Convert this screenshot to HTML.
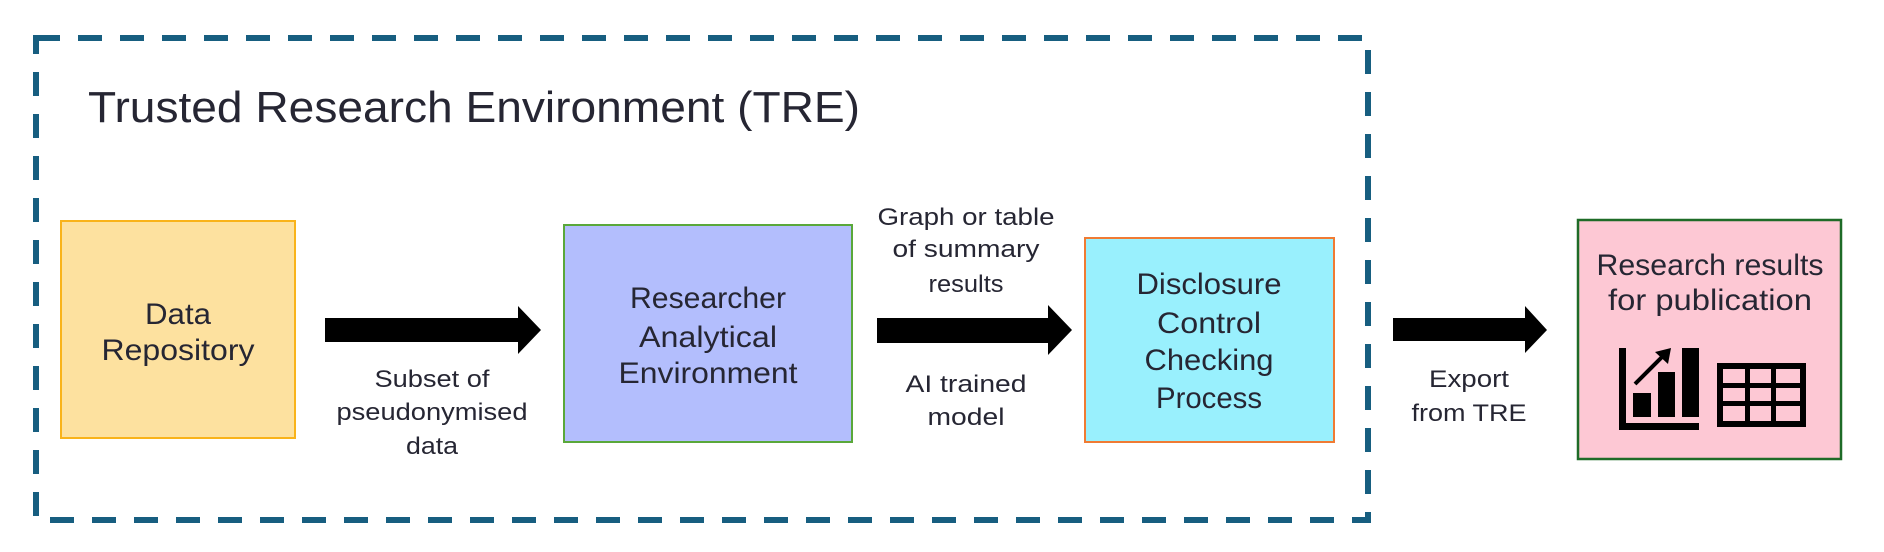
<!DOCTYPE html>
<html><head><meta charset="utf-8"><style>
html,body{margin:0;padding:0;background:#fff;}
svg{display:block;}
text{font-family:"Liberation Sans",sans-serif;fill:#262633;text-anchor:middle;}
</style></head><body>
<svg width="1884" height="552" viewBox="0 0 1884 552" xmlns="http://www.w3.org/2000/svg">
<rect x="36" y="38" width="1332" height="482" fill="none" stroke="#175e80" stroke-width="6" stroke-dasharray="24 18"/>
<text x="88" y="122" font-size="44" style="text-anchor:start" textLength="772" lengthAdjust="spacingAndGlyphs">Trusted Research Environment (TRE)</text>

<rect x="61" y="221" width="234" height="217" fill="#fde19f" stroke="#f9b31a" stroke-width="2"/>
<text x="178" y="324" font-size="30" textLength="66" lengthAdjust="spacingAndGlyphs">Data</text>
<text x="178" y="360" font-size="30" textLength="153" lengthAdjust="spacingAndGlyphs">Repository</text>

<polygon points="325,318 518,318 518,306 541,330 518,354 518,342 325,342" fill="#000"/>
<text x="432" y="387" font-size="24" textLength="115" lengthAdjust="spacingAndGlyphs">Subset of</text>
<text x="432" y="420" font-size="24" textLength="191" lengthAdjust="spacingAndGlyphs">pseudonymised</text>
<text x="432" y="454" font-size="24" textLength="52" lengthAdjust="spacingAndGlyphs">data</text>

<rect x="564" y="225" width="288" height="217" fill="#b3befd" stroke="#5aa83a" stroke-width="2"/>
<text x="708" y="308" font-size="30" textLength="156" lengthAdjust="spacingAndGlyphs">Researcher</text>
<text x="708" y="347" font-size="30" textLength="138" lengthAdjust="spacingAndGlyphs">Analytical</text>
<text x="708" y="383" font-size="30" textLength="179" lengthAdjust="spacingAndGlyphs">Environment</text>

<polygon points="877,318 1048,318 1048,305 1072,330 1048,355 1048,343 877,343" fill="#000"/>
<text x="966" y="225" font-size="24" textLength="177" lengthAdjust="spacingAndGlyphs">Graph or table</text>
<text x="966" y="257" font-size="24" textLength="147" lengthAdjust="spacingAndGlyphs">of summary</text>
<text x="966" y="292" font-size="24" textLength="75" lengthAdjust="spacingAndGlyphs">results</text>
<text x="966" y="392" font-size="24" textLength="121" lengthAdjust="spacingAndGlyphs">AI trained</text>
<text x="966" y="425" font-size="24" textLength="77" lengthAdjust="spacingAndGlyphs">model</text>

<rect x="1085" y="238" width="249" height="204" fill="#99f0fd" stroke="#f07b33" stroke-width="2"/>
<text x="1209" y="294" font-size="30" textLength="145" lengthAdjust="spacingAndGlyphs">Disclosure</text>
<text x="1209" y="333" font-size="30" textLength="104" lengthAdjust="spacingAndGlyphs">Control</text>
<text x="1209" y="370" font-size="30" textLength="129" lengthAdjust="spacingAndGlyphs">Checking</text>
<text x="1209" y="408" font-size="30" textLength="106" lengthAdjust="spacingAndGlyphs">Process</text>

<polygon points="1393,318 1525,318 1525,306 1547,330 1525,353 1525,341 1393,341" fill="#000"/>
<text x="1469" y="387" font-size="24" textLength="80" lengthAdjust="spacingAndGlyphs">Export</text>
<text x="1469" y="421" font-size="24" textLength="115" lengthAdjust="spacingAndGlyphs">from TRE</text>

<rect x="1578" y="220" width="263" height="239" fill="#fdc8d4" stroke="#1e6b27" stroke-width="2.5"/>
<text x="1710" y="275" font-size="30" textLength="227" lengthAdjust="spacingAndGlyphs">Research results</text>
<text x="1710" y="310" font-size="30" textLength="204" lengthAdjust="spacingAndGlyphs">for publication</text>

<!-- chart icon -->
<rect x="1619" y="348" width="7" height="82" fill="#000"/>
<rect x="1619" y="423" width="80" height="7" fill="#000"/>
<rect x="1633" y="393" width="18" height="24" fill="#000"/>
<rect x="1658" y="372" width="17" height="45" fill="#000"/>
<rect x="1682" y="348" width="17" height="69" fill="#000"/>
<line x1="1635" y1="384" x2="1664" y2="355" stroke="#000" stroke-width="4"/>
<polygon points="1671,348 1668,364 1655,352" fill="#000"/>
<!-- table icon -->
<rect x="1720" y="366" width="83" height="58" fill="none" stroke="#000" stroke-width="6"/>
<rect x="1745" y="366" width="5" height="58" fill="#000"/>
<rect x="1771" y="366" width="5" height="58" fill="#000"/>
<rect x="1720" y="383" width="83" height="5" fill="#000"/>
<rect x="1720" y="401" width="83" height="5" fill="#000"/>
</svg>
</body></html>
